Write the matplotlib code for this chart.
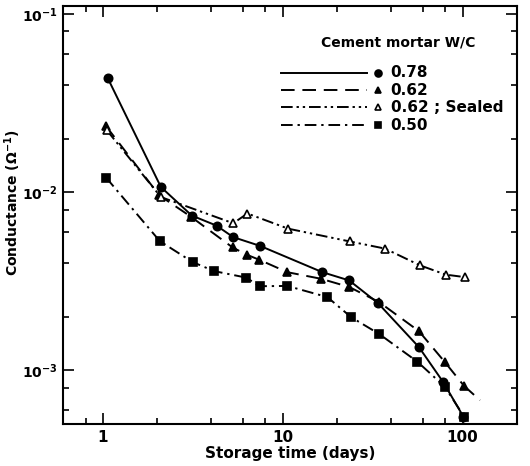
import matplotlib
matplotlib.use("Agg")
import matplotlib.pyplot as plt
from matplotlib.ticker import LogLocator, NullFormatter, FixedLocator, FixedFormatter

plt.rcParams["font.family"] = ["DejaVu Sans"]
plt.rcParams["font.weight"] = "bold"
plt.rcParams["mathtext.default"] = "bf"

# storage time (days) and conductance (1/ohm)
t_078 = [1.06, 2.1, 3.12, 4.28, 5.3, 7.48, 16.6, 23.4, 33.8, 57.2, 78, 101]
g_078 = [0.044, 0.0107, 0.0074, 0.0065, 0.0056, 0.0050, 0.00356, 0.0032, 0.00239, 0.00135, 0.00086, 0.00055]

t_062 = [1.04, 2.06, 3.08, 5.26, 6.31, 7.4, 10.6, 16.3, 23.4, 34.3, 57.2, 79.3, 101.7]
g_062 = [0.0235, 0.0096, 0.0073, 0.0049, 0.00446, 0.00418, 0.00356, 0.00327, 0.00294, 0.00242, 0.00166, 0.00112, 0.00082]

t_062s = [1.05, 2.1, 5.3, 6.36, 10.7, 23.5, 37, 57.9, 80.5, 103]
g_062s = [0.0223, 0.0094, 0.0067, 0.0076, 0.00625, 0.0053, 0.00483, 0.00389, 0.00345, 0.00334]

t_050 = [1.04, 2.07, 3.15, 4.15, 6.25, 7.45, 10.6, 17.7, 24, 34.4, 56, 79.6, 102]
g_050 = [0.0121, 0.00532, 0.00406, 0.00361, 0.00332, 0.00297, 0.00298, 0.00258, 0.00199, 0.0016, 0.00112, 0.00081, 0.00055]

labels = ["0.78", "0.62", "0.62 ; Sealed", "0.50"]

fig = plt.figure(figsize=(5.3, 4.66), dpi=100)
ax = fig.add_axes([0.119, 0.090, 0.856, 0.897])

series = [
    (t_078, g_078, "-", "o", "k"),
    (t_062, g_062, (0, (7, 4)), "^", "k"),
    (t_062s, g_062s, (0, (6, 2, 1.2, 2, 1.2, 2)), "^", "w"),
    (t_050, g_050, (0, (6, 2.5, 1.2, 2.5)), "s", "k"),
]
for t, g, ls, mk, fc in series:
    ax.plot(t, g, color="k", ls=ls, lw=1.4)
    ax.plot(t, g, ls="none", marker=mk, ms=6, mfc=fc, mec="k", mew=1.2, zorder=4)

# last dashed segment of W/C 0.62 runs beyond the final marker
ax.plot([t_062[-1], 125], [g_062[-1], 0.00068], color="k", ls=(0, (7, 4)), lw=1.4)

ax.set_xscale("log")
ax.set_yscale("log")
ax.set_xlim(0.6, 200)
ax.set_ylim(5e-4, 0.111)

ax.xaxis.set_major_locator(FixedLocator([1, 10, 100]))
ax.xaxis.set_major_formatter(FixedFormatter(["1", "10", "100"]))
ax.xaxis.set_minor_locator(LogLocator(base=10, subs=[2, 4, 6, 8]))
ax.xaxis.set_minor_formatter(NullFormatter())
ax.yaxis.set_major_locator(FixedLocator([1e-3, 1e-2, 1e-1]))
ax.yaxis.set_major_formatter(FixedFormatter(["10$^{-3}$", "10$^{-2}$", "10$^{-1}$"]))
ax.yaxis.set_minor_locator(LogLocator(base=10, subs=[2, 4, 6, 8]))
ax.yaxis.set_minor_formatter(NullFormatter())
ax.tick_params(which="both", direction="in", top=True, right=True, width=1.2)
ax.tick_params(which="major", length=8, pad=4)
ax.tick_params(axis="x", which="major", labelsize=11)
ax.tick_params(axis="y", which="major", labelsize=10)
ax.tick_params(which="minor", length=4)
for s in ax.spines.values():
    s.set_linewidth(1.5)

ax.set_xlabel("Storage time (days)", fontsize=11, fontweight="bold", labelpad=1)
ax.set_ylabel("Conductance (\u03a9$^{-1}$)", fontsize=10, fontweight="bold")
ax.yaxis.set_label_coords(-0.088, 0.53)

# hand-drawn style legend: line, marker, label
ax.text(0.738, 0.914, "Cement mortar W/C", transform=ax.transAxes, ha="center", va="center",
        fontsize=10, fontweight="bold")
rows = [0.840, 0.799, 0.758, 0.715]
for (t, g, ls, mk, fc), lab, yy in zip(series, labels, rows):
    ax.plot([0.480, 0.670], [yy, yy], transform=ax.transAxes, color="k", ls=ls, lw=1.4)
    ax.plot([0.694], [yy], transform=ax.transAxes, marker=mk, ms=5, mfc=fc, mec="k", mew=1.2)
    ax.text(0.722, yy, lab, transform=ax.transAxes, va="center", fontsize=11, fontweight="bold")

fig.savefig("out.png", dpi=100)
